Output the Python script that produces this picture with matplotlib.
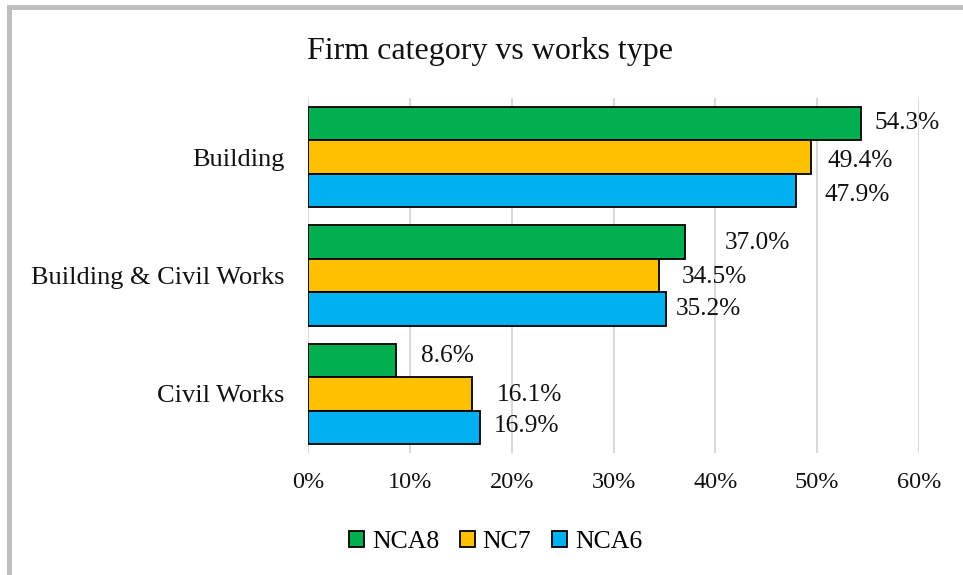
import matplotlib.pyplot as plt
from matplotlib.patches import Rectangle
from matplotlib.ticker import FuncFormatter
import numpy as np

plt.rcParams['font.family'] = ['Liberation Serif', 'DejaVu Serif']

# data
categories = ["Building", "Building & Civil Works", "Civil Works"]
series_names = ["NCA8", "NC7", "NCA6"]
nca8 = [54.3, 37.0, 8.6]
nc7 = [49.4, 34.5, 16.1]
nca6 = [47.9, 35.2, 16.9]
colors = ["#00B050", "#FFC000", "#00B0F0"]

# hand-placed label nudges (pixels), like the dragged labels in the original
label_dx = [[14, 16, 29], [40, 22, 9], [25, 25, 14]]
label_dy = [[-1.5, -6, -6], [-3, -3.5, -2], [2, -3, -1]]

fig = plt.figure(figsize=(9.63, 5.75), dpi=100)
ax = fig.add_axes([308 / 963, 1 - 453 / 575, (919 - 308) / 963, (453 - 98) / 575])

y = np.arange(len(categories))[::-1]
h = 0.282
offsets = [h, 0, -h]

for s, (name, vals, col) in enumerate(zip(series_names, [nca8, nc7, nca6], colors)):
    bars = ax.barh(y + offsets[s], vals, height=h, color=col, edgecolor="black",
                   linewidth=1.3, label=name, zorder=3)
    for i, b in enumerate(bars):
        ax.annotate(f"{vals[i]:.1f}%", (b.get_width(), b.get_y() + b.get_height() / 2),
                    xytext=(label_dx[i][s], label_dy[i][s] + 2), textcoords="offset pixels",
                    ha="left", va="center", fontsize=18.3, color="#111111")

ax.set_xlim(0, 60)
ax.set_ylim(-0.5, 2.5)
ax.set_xticks(range(0, 61, 10))
ax.xaxis.set_major_formatter(FuncFormatter(lambda v, _: f"{v:.0f}%"))
ax.set_yticks(y)
ax.set_yticklabels(categories)
ax.tick_params(axis="x", length=0, pad=14, labelsize=17.5, colors="#111111")
ax.tick_params(axis="y", length=0, pad=17, labelsize=19, colors="#111111")
ax.grid(axis="x", color="#D9D9D9", linewidth=1.5, zorder=0)
ax.set_axisbelow(True)
for sp in ax.spines.values():
    sp.set_visible(False)

fig.text(490 / 963, 1 - 58.5 / 575, "Firm category vs works type", ha="center",
         va="baseline", fontsize=23, color="#111111")

fig.legend(loc="center", bbox_to_anchor=(495.5 / 963, 1 - 542 / 575), ncol=3, frameon=False,
           fontsize=18.5, handlelength=0.6, handleheight=0.6, handletextpad=0.3,
           columnspacing=0.8)

# outer chart border (cropped on right and bottom in the original)
fig.patches.append(Rectangle((8.5 / 963, -0.1), 1.2, 1.1 - 7 / 575, transform=fig.transFigure,
                             fill=False, edgecolor="#BFBFBF", linewidth=3.6, clip_on=False))

fig.savefig("out.png", dpi=100)
